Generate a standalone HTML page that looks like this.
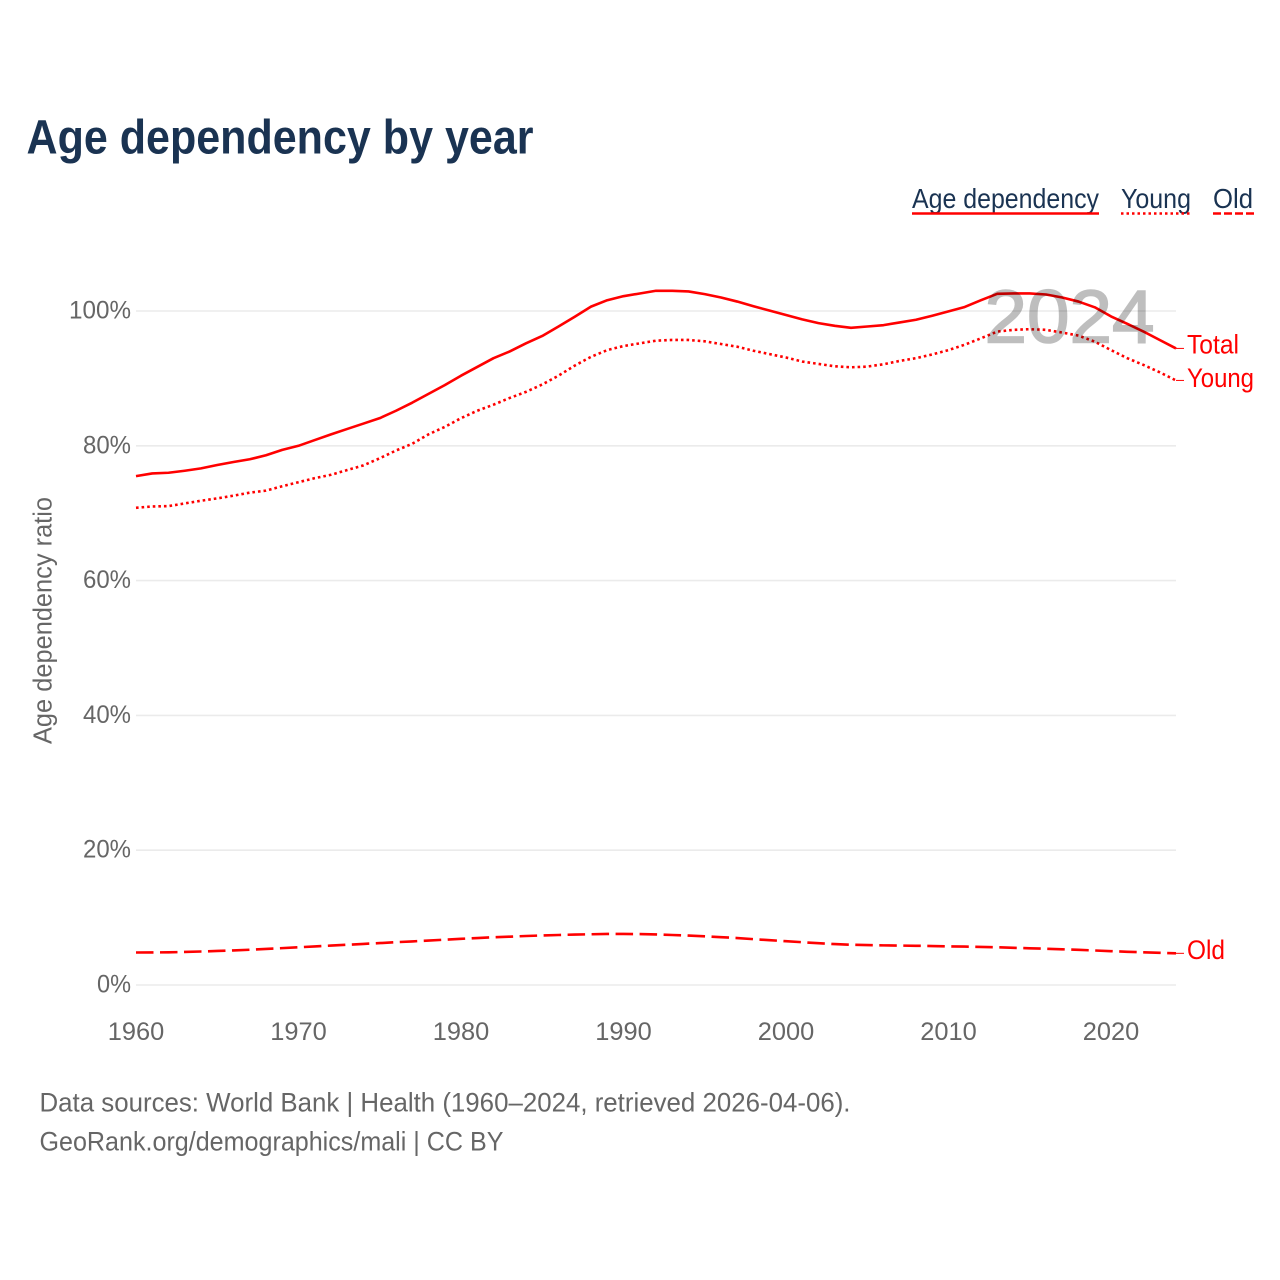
<!DOCTYPE html>
<html lang="en">
<head>
<meta charset="utf-8">
<title>Age dependency by year</title>
<style>
html,body{margin:0;padding:0;background:#fff;}
svg{display:block;font-family:"Liberation Sans",sans-serif;}
</style>
</head>
<body>
<svg id="chart" xmlns="http://www.w3.org/2000/svg" width="1280" height="1280" viewBox="0 0 1280 1280">
  <rect x="0" y="0" width="1280" height="1280" fill="#ffffff"/>
  <text x="26.5" y="153.5" font-size="48" font-weight="700" fill="#1a3352" textLength="507" lengthAdjust="spacingAndGlyphs">Age dependency by year</text>

  <g>
    <g>
      <text x="912" y="208" font-size="28" fill="#1a3352" textLength="187" lengthAdjust="spacingAndGlyphs">Age dependency</text>
      <line x1="912" y1="213.5" x2="1099" y2="213.5" stroke="#ff0000" stroke-width="2.5"/>
    </g>
    <g>
      <text x="1121" y="208" font-size="28" fill="#1a3352" textLength="70" lengthAdjust="spacingAndGlyphs">Young</text>
      <line x1="1121" y1="213.5" x2="1190" y2="213.5" stroke="#ff0000" stroke-width="2.5" stroke-dasharray="2.5 3"/>
    </g>
    <g>
      <text x="1213" y="208" font-size="28" fill="#1a3352" textLength="40" lengthAdjust="spacingAndGlyphs">Old</text>
      <line x1="1213" y1="213.5" x2="1254" y2="213.5" stroke="#ff0000" stroke-width="2.5" stroke-dasharray="8 3"/>
    </g>
  </g>

  <g id="grid"></g>
  <g id="yticks"></g>
  <g id="xticks"></g>
  <text transform="translate(51.5,744) rotate(-90)" font-size="25.5" fill="#666666" textLength="247" lengthAdjust="spacingAndGlyphs">Age dependency ratio</text>

  <g id="series"></g>
  <g id="labels"></g>

  <g opacity="0.25">
    <text x="984.5" y="342.5" font-size="75" fill="#000000" stroke="#000000" stroke-width="1.6" textLength="170" lengthAdjust="spacingAndGlyphs">2024</text>
  </g>

  <text x="39.5" y="1111.5" font-size="27" fill="#666666" textLength="811" lengthAdjust="spacingAndGlyphs">Data sources: World Bank | Health (1960–2024, retrieved 2026-04-06).</text>
  <text x="39.5" y="1150.5" font-size="27" fill="#666666" textLength="464" lengthAdjust="spacingAndGlyphs">GeoRank.org/demographics/mali | CC BY</text>
</svg>
<script>
const startYear = 1960;
const totalValues = [75.5,75.9,76.0,76.3,76.65,77.15,77.6,78.0,78.6,79.4,80.0,80.85,81.7,82.5,83.3,84.1,85.2,86.4,87.7,89.0,90.4,91.7,93.0,94.0,95.2,96.3,97.7,99.15,100.65,101.6,102.2,102.6,103.0,103.0,102.9,102.5,102.0,101.4,100.7,100.05,99.4,98.75,98.2,97.8,97.5,97.7,97.9,98.3,98.7,99.3,99.95,100.6,101.6,102.55,102.6,102.6,102.45,102.0,101.4,100.55,99.2,98.1,96.95,95.7,94.45];
const youngValues = [70.8,71.0,71.05,71.45,71.85,72.2,72.6,73.05,73.35,74.0,74.6,75.2,75.7,76.4,77.1,78.15,79.3,80.3,81.7,82.8,84.1,85.2,86.1,87.1,88.0,89.1,90.4,91.9,93.2,94.2,94.8,95.2,95.6,95.7,95.7,95.5,95.1,94.7,94.1,93.6,93.1,92.5,92.15,91.8,91.65,91.75,92.1,92.6,93.0,93.55,94.2,95.0,95.95,96.95,97.2,97.3,97.2,96.8,96.35,95.45,94.2,93.0,92.0,90.9,89.7];
const oldValues = [4.82,4.83,4.85,4.9,4.97,5.05,5.13,5.23,5.35,5.47,5.6,5.72,5.85,5.97,6.1,6.22,6.35,6.47,6.6,6.72,6.85,6.97,7.08,7.17,7.27,7.35,7.42,7.48,7.53,7.57,7.57,7.55,7.5,7.42,7.33,7.22,7.1,6.97,6.8,6.65,6.5,6.35,6.2,6.07,5.97,5.92,5.88,5.85,5.82,5.78,5.73,5.7,5.65,5.6,5.52,5.45,5.38,5.3,5.22,5.12,5.02,4.93,4.85,4.78,4.7];
const yTickValues = [0,20,40,60,80,100];
const xTickValues = [1960,1970,1980,1990,2000,2010,2020];
const seriesNames = ["Total","Young","Old"];

const SVG_NS = "http://www.w3.org/2000/svg";
function xScale(year){ return 136 + (year - 1960) * (1176 - 136) / (2024 - 1960); }
function yScale(v){ return 985 - v * (985 - 311) / 100; }
function make(tag, attrs, parent){
  const el = document.createElementNS(SVG_NS, tag);
  for (const k in attrs) el.setAttribute(k, attrs[k]);
  parent.appendChild(el);
  return el;
}

const gridG = document.getElementById("grid");
const yG = document.getElementById("yticks");
yTickValues.forEach(function(v){
  const line = make("line", {x1:136, x2:1176, y1:yScale(v), y2:yScale(v), stroke:"#ebebeb", "stroke-width":1.6}, gridG);
  
  
  const label = v + "%";
  const t = make("text", {x:131, y:yScale(v)+7.5, "font-size":25, fill:"#666666", "text-anchor":"end", textLength:14*(label.length-1)+20, lengthAdjust:"spacingAndGlyphs"}, yG);
  
  
  t.textContent = label;
});

const xG = document.getElementById("xticks");
xTickValues.forEach(function(yr){
  const t = make("text", {x:xScale(yr), y:1040, "font-size":25, fill:"#666666", "text-anchor":"middle", textLength:56.5, lengthAdjust:"spacingAndGlyphs"}, xG);
  
  
  t.textContent = String(yr);
});

function linePath(values){
  return values.map(function(v,i){
    return (i ? "L" : "M") + xScale(startYear + i).toFixed(2) + " " + yScale(v).toFixed(2);
  }).join(" ");
}

const seriesG = document.getElementById("series");
const labelsG = document.getElementById("labels");

const totalLine = make("path", {d:linePath(totalValues), fill:"none", stroke:"#ff0000", "stroke-width":2.6, "stroke-linejoin":"round"}, seriesG);



const youngLine = make("path", {d:linePath(youngValues), fill:"none", stroke:"#ff0000", "stroke-width":2.6, "stroke-dasharray":"2.6 3", "stroke-linejoin":"round"}, seriesG);



const oldLine = make("path", {d:linePath(oldValues), fill:"none", stroke:"#ff0000", "stroke-width":2.6, "stroke-dasharray":"17.5 6.5", "stroke-linejoin":"round"}, seriesG);



const lastValues = [totalValues[totalValues.length-1], youngValues[youngValues.length-1], oldValues[oldValues.length-1]];
const labelWidths = {Total:52, Young:67, Old:38};
const labelNudge = {Total:5, Young:6.5, Old:5.5};
seriesNames.forEach(function(name,i){
  const y = yScale(lastValues[i]);
  const leader = make("line", {x1:1176, x2:1184, y1:y, y2:y, stroke:"#ff0000", "stroke-width":1}, labelsG);
  
  
  const t = make("text", {x:1187, y:y+labelNudge[name], "font-size":27, fill:"#ff0000", textLength:labelWidths[name], lengthAdjust:"spacingAndGlyphs"}, labelsG);
  
  
  t.textContent = name;
});
</script>
</body>
</html>
